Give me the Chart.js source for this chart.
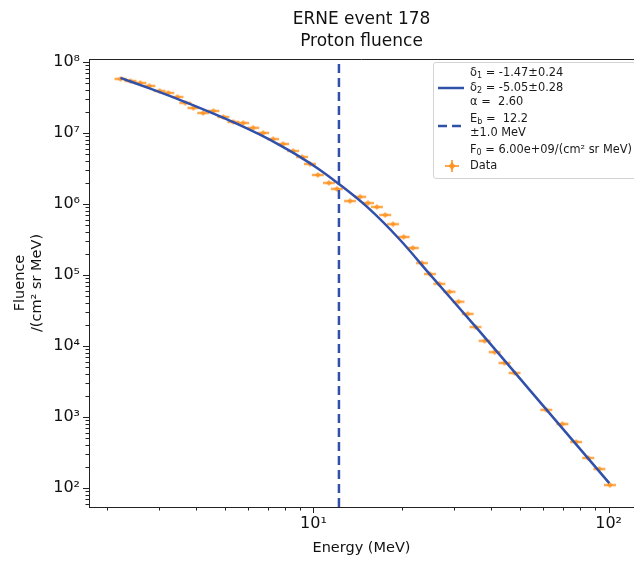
<!DOCTYPE html>
<html>
<head>
<meta charset="utf-8">
<title>ERNE event 178</title>
<script src="https://cdn.jsdelivr.net/npm/chart.js@4.4.0/dist/chart.umd.min.js"></script>
<style>
  html, body { margin: 0; padding: 0; background: #fff; overflow: hidden; }
  #wrap { position: relative; width: 634px; height: 561px; overflow: hidden; }
  #legend {
    position: absolute; left: 433px; top: 62px; width: 215px; height: 115px;
    border: 1px solid #d4d4d4; border-radius: 3px; background: rgba(255,255,255,0.85);
    font-family: 'DejaVu Sans', sans-serif; font-size: 11.4px; color: #1a1a1a;
  }
  .lt { position: absolute; left: 36px; white-space: pre; line-height: 13px; height: 13px; }
  .lt sub { font-size: 8px; vertical-align: -2px; line-height: 0; }
  .lh { position: absolute; left: 3px; }
</style>
</head>
<body>
<div id="wrap">
  <canvas id="fluenceChart" width="634" height="561"></canvas>
  <div id="legend">
    <svg class="lh" style="top:20px" width="28" height="10"><line x1="1" y1="5" x2="27" y2="5" stroke="#3150aa" stroke-width="2.5"/></svg>
    <div class="lt" style="top:3px">δ<sub>1</sub> = -1.47±0.24</div>
    <div class="lt" style="top:18px">δ<sub>2</sub> = -5.05±0.28</div>
    <div class="lt" style="top:32px">α =  2.60</div>
    <svg class="lh" style="top:58px" width="28" height="10"><line x1="1" y1="5" x2="27" y2="5" stroke="#3150aa" stroke-width="2.5" stroke-dasharray="9,5"/></svg>
    <div class="lt" style="top:49px">E<sub>b</sub> =  12.2</div>
    <div class="lt" style="top:63px">±1.0 MeV</div>
    <div class="lt" style="top:80px">F<sub>0</sub> = 6.00e+09/(cm² sr MeV)</div>
    <svg class="lh" style="top:94px" width="28" height="18">
      <line x1="8" y1="9" x2="22" y2="9" stroke="rgba(255,145,30,0.8)" stroke-width="2"/>
      <line x1="15" y1="3" x2="15" y2="15" stroke="rgba(255,145,30,0.8)" stroke-width="2"/>
      <path d="M15 5 L18.5 9 L15 13 L11.5 9 Z" fill="rgba(255,145,30,0.85)"/>
    </svg>
    <div class="lt" style="top:96px">Data</div>
  </div>
</div>
<script>
var energy = [2.22, 2.40, 2.59, 2.78, 3.01, 3.22, 3.46, 3.68, 3.92, 4.23,
  4.58, 4.95, 5.35, 5.78, 6.25, 6.75, 7.30, 7.89, 8.53, 9.15,
  9.73, 10.35, 11.28, 12.0, 13.3, 14.4, 15.3, 16.4, 17.5, 18.6,
  20.2, 21.7, 23.3, 24.8, 26.7, 28.9, 31.0, 33.3, 35.4, 38.0,
  41.1, 44.4, 48.0, 61.5, 69.7, 77.6, 85.3, 93.0, 101];
var fluence = [5.77e7, 5.4e7, 5.06e7, 4.59e7, 3.91e7, 3.66e7, 3.21e7, 2.65e7, 2.25e7, 1.91e7,
  2.04e7, 1.68e7, 1.43e7, 1.38e7, 1.18e7, 1.0e7, 8.2e6, 7.0e6, 5.57e6, 4.59e6,
  3.66e6, 2.56e6, 1.98e6, 1.63e6, 1.10e6, 1.26e6, 1.03e6, 9.07e5, 7.0e5, 5.2e5,
  3.43e5, 2.40e5, 1.47e5, 1.03e5, 7.5e4, 5.8e4, 4.2e4, 2.83e4, 1.85e4, 1.18e4,
  8.2e3, 5.76e3, 4.17e3, 1.26e3, 796, 445, 265, 185, 110];

// ── 피팅 곡선 (그림에서 읽은 점) ──
var fitEnergy = [2.22, 2.8, 3.54, 4.48, 5.35, 6.59, 7.71, 9.0, 10.35, 12.1, 15.2, 19.6, 24.8, 36.5, 53.8, 100.5];
var fitFluence = [5.96e7, 4.20e7, 2.90e7, 1.95e7, 1.42e7, 9.44e6, 6.68e6, 4.61e6, 3.16e6, 1.96e6, 9.08e5, 3.16e5, 1.02e5, 1.62e4, 2.45e3, 117];

// ── 꺾임 에너지 ──
var breakEnergy = [12.2];

// ── 축 범위 / 눈금 ──
var xRange = [1.736, 121.9];
var yRange = [54, 1.1e8];
var xDecades = [1, 10, 100];
var yDecades = [10, 1e2, 1e3, 1e4, 1e5, 1e6, 1e7, 1e8];
var minorSteps = [1, 2, 3, 4, 5, 6, 7, 8, 9];

var blue = '#3150aa';
var orange = 'rgba(255,145,30,0.78)';
var sup = '⁰¹²³⁴⁵⁶⁷⁸⁹';

function toPoints(xs, ys) {
  return xs.map(function(x, i) { return { x: x, y: ys[i] }; });
}

function isDecade(v) {
  var l = Math.log10(v);
  return Math.abs(l - Math.round(l)) < 1e-9;
}

function decadeLabel(v) {
  if (!isDecade(v)) return '';
  var e = String(Math.round(Math.log10(v)));
  return '10' + e.split('').map(function(d) { return sup[+d]; }).join('');
}

function buildTicks(decades, range) {
  var out = [];
  decades.forEach(function(d) {
    minorSteps.forEach(function(k) {
      var v = k * d;
      if (v >= range[0] && v <= range[1]) out.push({ value: v });
    });
  });
  return out;
}

// 에러바 모양 마커
function makeMarker() {
  var c = document.createElement('canvas');
  c.width = 18; c.height = 10;
  var g = c.getContext('2d');
  g.strokeStyle = orange;
  g.lineWidth = 2.5;
  g.beginPath(); g.moveTo(3, 5); g.lineTo(15, 5); g.stroke();
  g.fillStyle = orange;
  g.beginPath();
  g.moveTo(9, 2); g.lineTo(12, 5); g.lineTo(9, 8); g.lineTo(6, 5);
  g.closePath(); g.fill();
  return c;
}

// ── 축 장식: 눈금, 테두리, 제목 ──
var decorPlugin = {
  id: 'decor',
  afterDraw: function(chart) {
    var ctx = chart.ctx;
    var a = chart.chartArea;
    var sx = chart.scales.x, sy = chart.scales.y;
    ctx.save();
    ctx.strokeStyle = '#222';
    ctx.lineWidth = 1;
    ctx.beginPath();
    ctx.moveTo(a.left, a.top + 0.5); ctx.lineTo(a.right, a.top + 0.5);
    ctx.stroke();

    ctx.beginPath();
    sx.ticks.forEach(function(t) {
      var px = Math.round(sx.getPixelForValue(t.value)) + 0.5;
      var len = isDecade(t.value) ? 6 : 3.5;
      ctx.moveTo(px, a.bottom); ctx.lineTo(px, a.bottom + len);
    });
    sy.ticks.forEach(function(t) {
      var py = Math.round(sy.getPixelForValue(t.value)) + 0.5;
      var len = isDecade(t.value) ? 6 : 3.5;
      ctx.moveTo(a.left, py); ctx.lineTo(a.left - len, py);
    });
    ctx.stroke();

    ctx.fillStyle = '#111';
    ctx.textAlign = 'center';
    ctx.textBaseline = 'middle';
    var cx = (a.left + a.right) / 2;
    ctx.font = '17px "DejaVu Sans"';
    ctx.fillText('ERNE event 178', cx, 20);
    ctx.fillText('Proton fluence', cx, 42);

    ctx.font = '14.5px "DejaVu Sans"';
    ctx.fillText('Energy (MeV)', cx, 548);

    var cy = (a.top + a.bottom) / 2;
    ctx.translate(20, cy);
    ctx.rotate(-Math.PI / 2);
    ctx.fillText('Fluence', 0, 0);
    ctx.fillText('/(cm² sr MeV)', 0, 17);
    ctx.restore();
  }
};

var marker = makeMarker();

var chart = new Chart(document.getElementById('fluenceChart').getContext('2d'), {
  type: 'scatter',
  data: {
    datasets: [
      {
        label: 'fit',
        type: 'line',
        data: toPoints(fitEnergy, fitFluence),
        borderColor: blue,
        borderWidth: 2.5,
        pointRadius: 0,
        cubicInterpolationMode: 'monotone',
        fill: false,
        order: 1
      },
      {
        label: 'Eb',
        type: 'line',
        data: [{ x: breakEnergy[0], y: yRange[0] }, { x: breakEnergy[0], y: yRange[1] }],
        borderColor: blue,
        borderWidth: 2.5,
        borderDash: [9, 5],
        pointRadius: 0,
        fill: false,
        order: 2
      },
      {
        label: 'Data',
        data: toPoints(energy, fluence),
        pointStyle: marker,
        pointRadius: 5,
        order: 3
      }
    ]
  },
  options: {
    responsive: false,
    animation: false,
    layout: { autoPadding: false, padding: { top: 59, left: 0, right: 0, bottom: 0 } },
    plugins: {
      legend: { display: false },
      tooltip: { enabled: false },
      title: { display: false }
    },
    scales: {
      x: {
        type: 'logarithmic',
        min: xRange[0],
        max: xRange[1],
        afterFit: function(s) { s.height = 54; s.paddingLeft = 0; s.paddingRight = 0; },
        afterBuildTicks: function(s) { s.ticks = buildTicks(xDecades, xRange); },
        grid: { display: false, drawTicks: false },
        border: { display: true, color: '#222', width: 1 },
        ticks: {
          autoSkip: false, maxRotation: 0, padding: 7,
          font: { family: 'DejaVu Sans', size: 16 }, color: '#111',
          callback: function(v) { return decadeLabel(v); }
        }
      },
      y: {
        type: 'logarithmic',
        min: yRange[0],
        max: yRange[1],
        afterFit: function(s) { s.width = 89; s.paddingTop = 0; s.paddingBottom = 0; },
        afterBuildTicks: function(s) { s.ticks = buildTicks(yDecades, yRange); },
        grid: { display: false, drawTicks: false },
        border: { display: true, color: '#222', width: 1 },
        ticks: {
          autoSkip: false, padding: 9,
          font: { family: 'DejaVu Sans', size: 16 }, color: '#111',
          callback: function(v) { return decadeLabel(v); }
        }
      }
    }
  },
  plugins: [decorPlugin]
});
</script>
</body>
</html>
